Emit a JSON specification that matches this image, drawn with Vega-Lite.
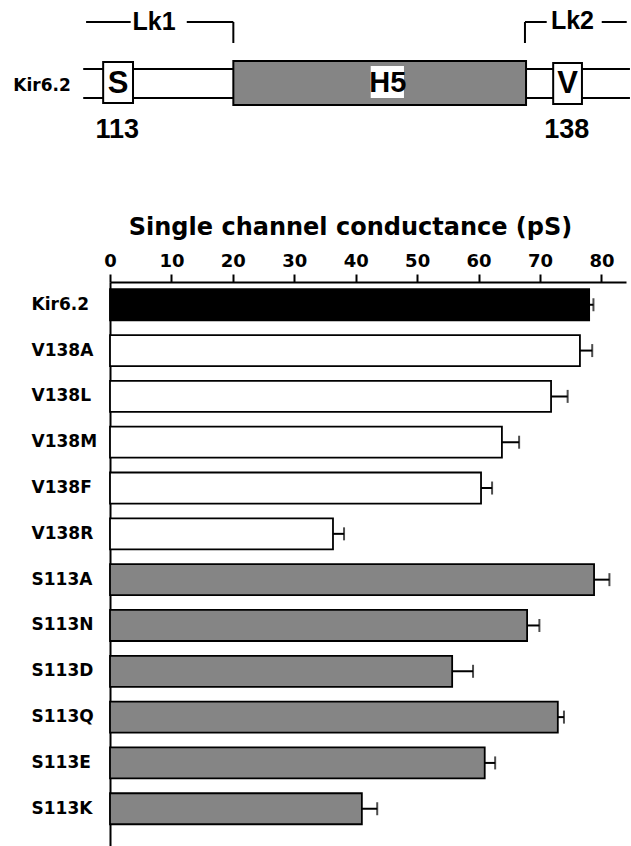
{
  "$schema": "https://vega.github.io/schema/vega-lite/v6.json",
  "width": 516,
  "height": 564,
  "autosize": {"type": "none"},
  "padding": {"left": 110, "top": 282, "right": 5, "bottom": 0},
  "background": "white",
  "config": {"view": {"stroke": null}},
  "datasets": {
    "bars": [
      {"mutant": "Kir6.2", "group": "wild type", "g": 78.0, "sem": 0.7},
      {"mutant": "V138A", "group": "V138", "g": 76.5, "sem": 2.0},
      {"mutant": "V138L", "group": "V138", "g": 71.8, "sem": 2.7},
      {"mutant": "V138M", "group": "V138", "g": 63.8, "sem": 2.8},
      {"mutant": "V138F", "group": "V138", "g": 60.4, "sem": 1.8},
      {"mutant": "V138R", "group": "V138", "g": 36.3, "sem": 1.8},
      {"mutant": "S113A", "group": "S113", "g": 78.8, "sem": 2.5},
      {"mutant": "S113N", "group": "S113", "g": 67.9, "sem": 2.0},
      {"mutant": "S113D", "group": "S113", "g": 55.7, "sem": 3.4},
      {"mutant": "S113Q", "group": "S113", "g": 72.9, "sem": 1.0},
      {"mutant": "S113E", "group": "S113", "g": 61.0, "sem": 1.7},
      {"mutant": "S113K", "group": "S113", "g": 41.0, "sem": 2.5}
    ],
    "lines": [
      {"item": "backbone top", "r1": 111.06, "r2": 141.47, "v1": 77.7, "v2": 77.7},
      {"item": "backbone bottom", "r1": 111.06, "r2": 141.47, "v1": 74.8, "v2": 74.8},
      {"item": "Lk1 left", "r1": 111.22, "r2": 113.7, "v1": 82.4, "v2": 82.4},
      {"item": "Lk1 right", "r1": 116.82, "r2": 119.41, "v1": 82.4, "v2": 82.4},
      {"item": "Lk1 end", "r1": 119.41, "r2": 119.41, "v1": 82.4, "v2": 80.3},
      {"item": "Lk2 start", "r1": 135.63, "r2": 135.63, "v1": 82.4, "v2": 80.3},
      {"item": "Lk2 left", "r1": 135.63, "r2": 136.84, "v1": 82.4, "v2": 82.4},
      {"item": "Lk2 right", "r1": 139.9, "r2": 141.29, "v1": 82.4, "v2": 82.4}
    ],
    "boxes": [
      {"part": "residue", "name": "S", "r1": 112.17, "r2": 113.83, "v1": 74.3, "v2": 78.4},
      {"part": "pore helix", "name": "H5", "r1": 119.41, "r2": 135.69, "v1": 74.1, "v2": 78.5},
      {"part": "residue", "name": "V", "r1": 137.2, "r2": 138.8, "v1": 74.2, "v2": 78.3}
    ],
    "labelbg": [
      {"name": "H5", "r1": 127.05, "r2": 128.9, "v1": 74.8, "v2": 78.0}
    ],
    "construct": [
      {"text": "Kir6.2", "r": 108.77, "v": 76.05}
    ],
    "labels": [
      {"text": "S", "kind": "residue", "r": 113.0, "v": 76.2},
      {"text": "V", "kind": "residue", "r": 138.0, "v": 76.2},
      {"text": "H5", "kind": "segment", "r": 128.0, "v": 76.3},
      {"text": "113", "kind": "position", "r": 112.95, "v": 71.6},
      {"text": "138", "kind": "position", "r": 137.95, "v": 71.6},
      {"text": "Lk1", "kind": "linker", "r": 115.0, "v": 82.4},
      {"text": "Lk2", "kind": "linker", "r": 138.27, "v": 82.5}
    ]
  },
  "layer": [
    {
      "layer": [
        {
          "data": {"name": "lines"},
          "mark": {"type": "rule", "color": "black", "strokeWidth": 2},
          "encoding": {
            "x": {"field": "r1", "type": "quantitative", "scale": {"domain": [112.55, 141.25], "zero": false, "nice": false}, "axis": null},
            "x2": {"field": "r2"},
            "y": {"field": "v1", "type": "quantitative", "scale": {"domain": [0, 56.4], "zero": false, "nice": false}, "axis": null},
            "y2": {"field": "v2"}
          }
        },
        {
          "data": {"name": "boxes"},
          "mark": {"type": "rect", "stroke": "black", "strokeWidth": 2},
          "encoding": {
            "x": {"field": "r1", "type": "quantitative", "axis": null},
            "x2": {"field": "r2"},
            "y": {"field": "v1", "type": "quantitative", "axis": null},
            "y2": {"field": "v2"},
            "fill": {"field": "part", "type": "nominal", "scale": {"domain": ["residue", "pore helix"], "range": ["white", "#858585"]}, "legend": null}
          }
        },
        {
          "data": {"name": "labelbg"},
          "mark": {"type": "rect", "fill": "white", "strokeWidth": 0},
          "encoding": {
            "x": {"field": "r1", "type": "quantitative", "axis": null},
            "x2": {"field": "r2"},
            "y": {"field": "v1", "type": "quantitative", "axis": null},
            "y2": {"field": "v2"}
          }
        },
        {
          "data": {"name": "construct"},
          "mark": {"type": "text", "font": "DejaVu Sans", "fontWeight": "bold", "fontSize": 17, "color": "black", "align": "center", "baseline": "middle"},
          "encoding": {
            "x": {"field": "r", "type": "quantitative", "axis": null},
            "y": {"field": "v", "type": "quantitative", "axis": null},
            "text": {"field": "text"}
          }
        },
        {
          "data": {"name": "labels"},
          "mark": {"type": "text", "font": "Liberation Sans", "fontWeight": "bold", "color": "black", "align": "center", "baseline": "middle"},
          "encoding": {
            "x": {"field": "r", "type": "quantitative", "axis": null},
            "y": {"field": "v", "type": "quantitative", "axis": null},
            "text": {"field": "text"},
            "size": {"field": "kind", "type": "nominal", "scale": {"domain": ["residue", "segment", "position", "linker"], "range": [31, 25, 28, 27]}, "legend": null}
          }
        }
      ]
    },
    {
      "data": {"name": "bars"},
      "encoding": {
        "y": {
          "field": "mutant", "type": "nominal", "sort": null,
          "scale": {"paddingInner": 0.323, "paddingOuter": 0.3165, "align": 0.25, "round": false},
          "axis": {"title": null, "ticks": false, "domainColor": "black", "domainWidth": 2, "labelAlign": "left", "labelPadding": 79, "labelFont": "DejaVu Sans", "labelFontWeight": "bold", "labelFontSize": 17, "labelColor": "black", "labelBaseline": "middle"}
        },
        "x": {
          "field": "g", "type": "quantitative",
          "scale": {"domain": [0, 84], "nice": false, "zero": true},
          "axis": {"orient": "top", "values": [0, 10, 20, 30, 40, 50, 60, 70, 80], "title": "Single channel conductance (pS)", "grid": false, "domainColor": "black", "domainWidth": 2, "tickColor": "black", "tickWidth": 2, "tickSize": 8, "labelFont": "DejaVu Sans", "labelFontWeight": "bold", "labelFontSize": 18, "labelColor": "black", "labelPadding": 8, "labelBaseline": "alphabetic", "labelFlush": false, "labelOverlap": false, "titleFont": "DejaVu Sans", "titleFontWeight": "bold", "titleFontSize": 24, "titleColor": "black", "titleX": 240, "titleY": -48, "titleBaseline": "alphabetic", "titleAlign": "center"}
        }
      },
      "layer": [
        {
          "mark": {"type": "errorbar", "color": "black", "ticks": {"size": 13, "thickness": 2, "color": "black"}, "rule": {"strokeWidth": 2, "color": "black"}},
          "encoding": {"xError": {"field": "sem"}}
        },
        {
          "mark": {"type": "bar", "stroke": "black", "strokeWidth": 1.8},
          "encoding": {
            "fill": {"field": "group", "type": "nominal", "scale": {"domain": ["wild type", "V138", "S113"], "range": ["black", "white", "#858585"]}, "legend": null}
          }
        }
      ]
    }
  ],
  "resolve": {"scale": {"x": "independent", "y": "independent", "fill": "independent", "size": "independent"}}
}
